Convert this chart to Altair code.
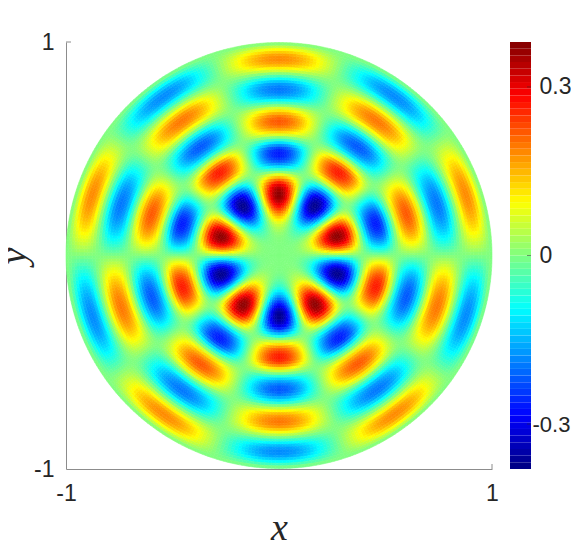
import altair as alt
import pandas as pd

# Radial profile of the field, read outward from centre to rim (one value per ring)
radial_values = [
    0, 0, 0, .0002, .0007, .002, .004, .0085, .016, .027,
    .039, .055, .076, .105, .135, .170, .205, .243, .278, .308,
    .338, .360, .369, .371, .358, .340, .308, .262, .205, .145,
    .078, .005, -.06, -.12, -.175, -.22, -.245, -.262, -.265, -.258,
    -.23, -.18, -.12, -.055, .004, .07, .125, .165, .195, .214,
    .22, .212, .19, .155, .115, .065, .003, -.05, -.10, -.145,
    -.175, -.19, -.197, -.19, -.17, -.135, -.09, -.04, .008, .06,
    .105, .145, .17, .182, .18, .165, .135, .095, .05, .008,
]
# Angular weight per degree over half of one lobe period, from the top of the disk
angular_half = [.999, .991, .976, .954, .924, .887, .843, .793, .737, .676, .609, .537,
                .462, .383, .301, .216, .131, .044, -.044, -.131, -.216, -.301, -.383,
                -.462, -.537, -.609, -.676, -.737, -.793, -.843, -.887, -.924, -.954,
                -.976, -.991, -.999]
lobes = 5
value_limit = 0.38
colorbar_ticks = [-0.3, 0, 0.3]
axis_ticks = [-1, 1]
jet = ["#000080", "#0000ff", "#0080ff", "#00ffff", "#80ff80",
       "#ffff00", "#ff8000", "#ff0000", "#800000"]

RADIUS_PX = 213
angular = (angular_half + angular_half[::-1]) * lobes
n_r = len(radial_values)
sector_choices = [12, 9, 8, 6, 4, 3, 2, 1]
rows = []
for i, rv in enumerate(radial_values):
    mid = (i + 0.5) / n_r * RADIUS_PX
    step = next((k for k in sector_choices if mid * k * 3.14159 / 180 <= 2.6), 1)
    for j in range(0, 360, step):
        av = sum(angular[j:j + step]) / step
        rows.append({"r0": i / n_r, "r1": (i + 1) / n_r, "t0": j, "t1": j + step,
                     "v": round(rv * av, 4)})
field = pd.DataFrame(rows)

n_bands = 64
bands = pd.DataFrame({
    "lo": [-value_limit + 2 * value_limit * k / n_bands for k in range(n_bands)],
    "hi": [-value_limit + 2 * value_limit * (k + 1) / n_bands for k in range(n_bands)],
})
bands["v"] = (bands.lo + bands.hi) / 2

color_scale = alt.Scale(domain=[-value_limit, value_limit], range=jet, interpolate="rgb")
xy_scale = alt.Scale(domain=[-1, 1], nice=False)
TEXT = "#262626"
GRAY = "#8c8c8c"
label_expr = "datum.value == 0 ? '0' : '' + datum.value"

x_axis = alt.Axis(
    values=axis_ticks, labelExpr=label_expr, title="x", grid=False, ticks=False,
    domainColor=GRAY, domainWidth=1, labelFontSize=23, labelFont="Liberation Sans",
    labelColor=TEXT, labelPadding=13, titleFont="Liberation Serif", titleFontStyle="italic",
    titleFontWeight="normal", titleFontSize=38, titleColor=TEXT, titlePadding=4, labelFlush=False)
y_axis = alt.Axis(
    values=axis_ticks, labelExpr=label_expr, title="y", grid=False, ticks=False,
    domainColor=GRAY, domainWidth=1, labelFontSize=23, labelFont="Liberation Sans",
    labelColor=TEXT, labelPadding=12, titleFont="Liberation Serif", titleFontStyle="italic",
    titleFontWeight="normal", titleFontSize=38, titleColor=TEXT, titlePadding=0, labelFlush=False)

disk = alt.Chart(field).mark_arc(strokeWidth=0.6).encode(
    x=alt.XDatum(0, scale=xy_scale, axis=x_axis),
    y=alt.YDatum(0, scale=xy_scale, axis=y_axis),
    theta=alt.Theta("t0:Q", scale=alt.Scale(domain=[0, 360], range=[0, 6.283185307]), stack=False),
    theta2="t1:Q",
    radius=alt.Radius("r0:Q", scale=alt.Scale(domain=[0, 1], range=[0, RADIUS_PX])),
    radius2="r1:Q",
    color=alt.Color("v:Q", scale=color_scale, legend=None),
    stroke=alt.Stroke("v:Q", scale=color_scale, legend=None),
)

tick_df = pd.DataFrame({"p": [1]})
y_tick = alt.Chart(tick_df).mark_rule(color=GRAY, strokeWidth=1).encode(
    x=alt.value(0), x2=alt.value(5), y=alt.Y("p:Q", scale=xy_scale, axis=y_axis))
x_tick = alt.Chart(tick_df).mark_rule(color=GRAY, strokeWidth=1).encode(
    y=alt.value(422), y2=alt.value(427), x=alt.X("p:Q", scale=xy_scale, axis=x_axis))

main = alt.layer(disk, y_tick, x_tick).properties(width=426, height=427)

bar_y = alt.Scale(domain=[-value_limit, value_limit], nice=False)
bar_axis = alt.Axis(
    orient="right", values=colorbar_ticks, labelExpr=label_expr, title=None, grid=False,
    ticks=False, domain=False, labelFont="Liberation Sans",
    labelFontSize=alt.condition("datum.value < 0", alt.value(22), alt.value(23)),
    labelColor=TEXT,
    labelPadding=alt.condition("datum.value < 0", alt.value(1), alt.value(8)))
bar = alt.Chart(bands).mark_rect().encode(
    x=alt.value(0), x2=alt.value(21),
    y=alt.Y("lo:Q", scale=bar_y, axis=bar_axis),
    y2="hi:Q",
    color=alt.Color("v:Q", scale=color_scale, legend=None),
)
bar_tick_df = pd.DataFrame({"t": colorbar_ticks})
bar_ticks = alt.Chart(bar_tick_df).mark_rule(color="#262626", strokeWidth=0.7, opacity=0.7).encode(
    x=alt.value(17), x2=alt.value(21), y=alt.Y("t:Q", scale=bar_y, axis=bar_axis))
colorbar = alt.layer(bar, bar_ticks).properties(width=21, height=427)

chart = alt.hconcat(main, colorbar, spacing=11).properties(
    padding={"left": -13, "top": 23, "right": 0, "bottom": 0}
).configure_view(stroke=None)

chart.save("out.html", embed_options={"renderer": "svg", "actions": False})
